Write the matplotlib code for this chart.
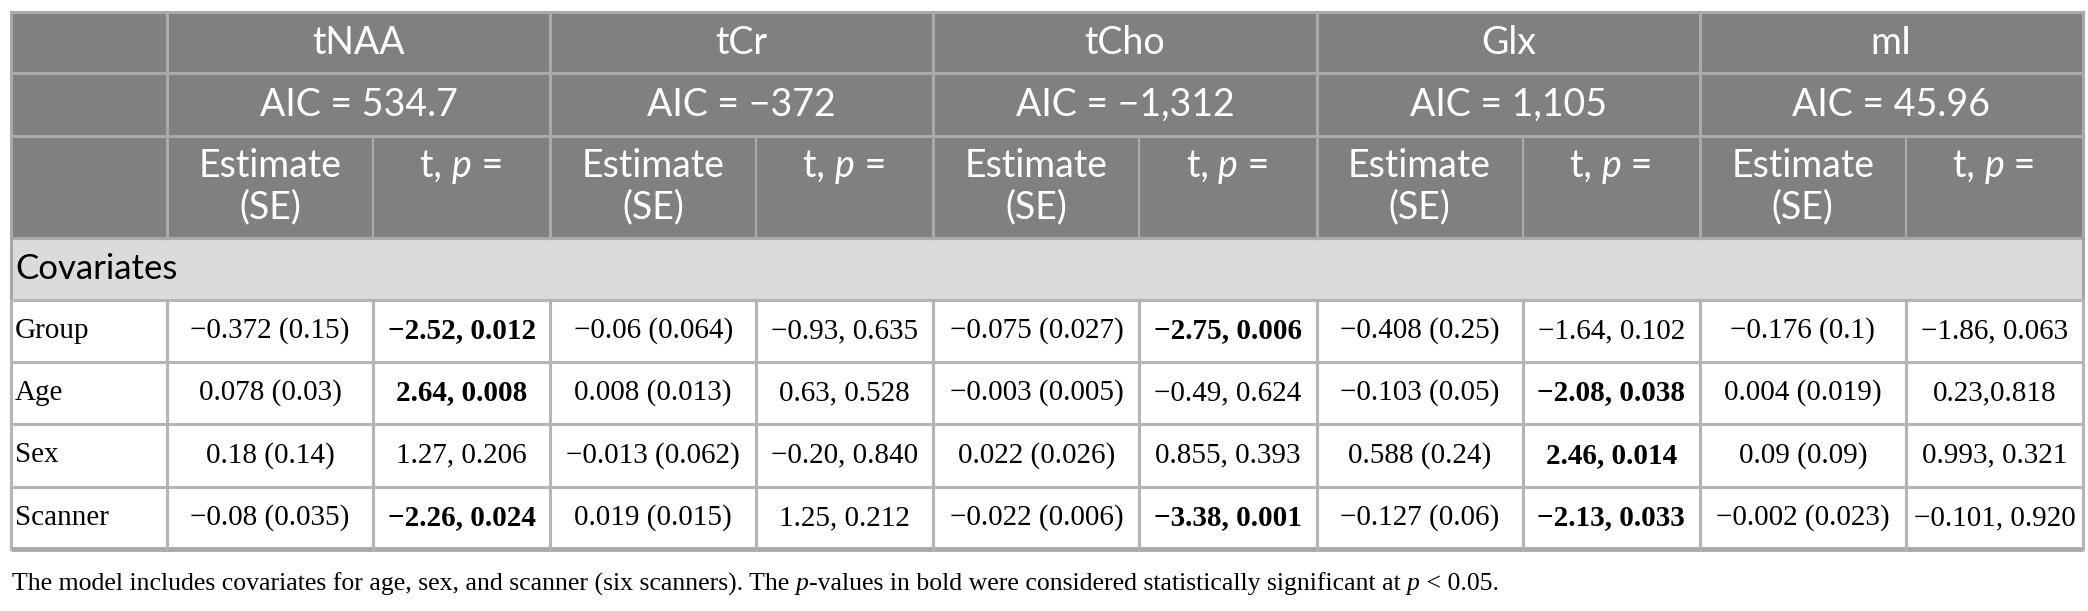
import matplotlib
matplotlib.use("Agg")
import matplotlib.pyplot as plt
from matplotlib.patches import Rectangle

# table contents
metabolites = ["tNAA", "tCr", "tCho", "Glx", "mI"]
aic_labels = ["AIC = 534.7", "AIC = \u2212372", "AIC = \u22121,312", "AIC = 1,105", "AIC = 45.96"]
covariates = ["Group", "Age", "Sex", "Scanner"]

estimates = [
    ["\u22120.372 (0.15)", "\u22120.06 (0.064)", "\u22120.075 (0.027)", "\u22120.408 (0.25)", "\u22120.176 (0.1)"],
    ["0.078 (0.03)", "0.008 (0.013)", "\u22120.003 (0.005)", "\u22120.103 (0.05)", "0.004 (0.019)"],
    ["0.18 (0.14)", "\u22120.013 (0.062)", "0.022 (0.026)", "0.588 (0.24)", "0.09 (0.09)"],
    ["\u22120.08 (0.035)", "0.019 (0.015)", "\u22120.022 (0.006)", "\u22120.127 (0.06)", "\u22120.002 (0.023)"],
]
t_p = [
    ["\u22122.52, 0.012", "\u22120.93, 0.635", "\u22122.75, 0.006", "\u22121.64, 0.102", "\u22121.86, 0.063"],
    ["2.64, 0.008", "0.63, 0.528", "\u22120.49, 0.624", "\u22122.08, 0.038", "0.23,0.818"],
    ["1.27, 0.206", "\u22120.20, 0.840", "0.855, 0.393", "2.46, 0.014", "0.993, 0.321"],
    ["\u22122.26, 0.024", "1.25, 0.212", "\u22123.38, 0.001", "\u22122.13, 0.033", "\u22120.101, 0.920"],
]
significant = [
    [True, False, True, False, False],
    [True, False, False, True, False],
    [False, False, False, True, False],
    [True, False, True, True, False],
]

W, H = 2088, 611
fig = plt.figure(figsize=(W / 100, H / 100), dpi=100)
ax = fig.add_axes([0, 0, 1, 1])
ax.set_xlim(0, W)
ax.set_ylim(H, 0)
ax.axis("off")

SANS = "Lato"
SERIF = "Liberation Serif"
head_bg = "#808080"
head_line = "#a9a9a9"
band_bg = "#dbdbdb"
body_line = "#b5b5b5"
HEAD_FS = 27
BODY_FS = 21

# layout (pixels)
x_left, x_right = 11, 2083
x_first = 167
group_w = (x_right - x_first) / len(metabolites)
est_w = 206
row_y = [12, 73, 136, 238, 300, 362, 424, 487, 549]

fig.canvas.draw()
renderer = fig.canvas.get_renderer()


def text_runs(x, y, parts, ha="center", va="center", **kw):
    # place pieces of text one after another (for mixed italic)
    objs = []
    for s, extra in parts:
        opts = dict(kw)
        opts.update(extra)
        objs.append(ax.text(0, y, s, ha="left", va=va, **opts))
    widths = [t.get_window_extent(renderer).width for t in objs]
    total = sum(widths)
    x0 = x - total / 2 if ha == "center" else x
    for t, w in zip(objs, widths):
        t.set_x(x0)
        x0 += w


# header background
ax.add_patch(Rectangle((x_left, row_y[0]), x_right - x_left, row_y[3] - row_y[0],
                       facecolor=head_bg, edgecolor="none"))
# covariates band
ax.add_patch(Rectangle((x_left, row_y[3]), x_right - x_left, row_y[4] - row_y[3],
                       facecolor=band_bg, edgecolor="none"))

col_edges = []
for i in range(len(metabolites)):
    gx = x_first + i * group_w
    col_edges.append((gx, gx + est_w, gx + group_w))

# header grid lines
for y in row_y[0:4]:
    ax.plot([x_left, x_right], [y, y], color=head_line, lw=2.2, solid_capstyle="butt")
ax.plot([x_left, x_left], [row_y[0], row_y[3]], color=head_line, lw=2.2)
ax.plot([x_right, x_right], [row_y[0], row_y[3]], color=head_line, lw=2.2)
for gx, mx, ex in col_edges:
    ax.plot([gx, gx], [row_y[0], row_y[3]], color=head_line, lw=2.2)
    ax.plot([mx, mx], [row_y[2], row_y[3]], color=head_line, lw=1.6)

# covariates band borders
ax.plot([x_left, x_left], [row_y[3], row_y[4]], color="#a0a0a0", lw=2)
ax.plot([x_right, x_right], [row_y[3], row_y[4]], color="#a0a0a0", lw=2)

# header texts
for i, (gx, mx, ex) in enumerate(col_edges):
    cx = (gx + ex) / 2
    ax.text(cx, (row_y[0] + row_y[1]) / 2, metabolites[i], ha="center", va="center",
            color="white", fontsize=HEAD_FS, family=SANS)
    ax.text(cx, (row_y[1] + row_y[2]) / 2, aic_labels[i], ha="center", va="center",
            color="white", fontsize=HEAD_FS, family=SANS)
    ax.text((gx + mx) / 2, 166, "Estimate", ha="center", va="center",
            color="white", fontsize=HEAD_FS, family=SANS)
    ax.text((gx + mx) / 2, 207, "(SE)", ha="center", va="center",
            color="white", fontsize=HEAD_FS, family=SANS)
    text_runs((mx + ex) / 2, 166, [("t, ", {}), ("p", {"style": "italic"}), (" =", {})],
              color="white", fontsize=HEAD_FS, family=SANS)

ax.text(15, (row_y[3] + row_y[4]) / 2, "Covariates", ha="left", va="center",
        color="black", fontsize=25, family=SANS)

# body rows
for r, name in enumerate(covariates):
    y0, y1 = row_y[4 + r], row_y[5 + r]
    cy = (y0 + y1) / 2
    ax.text(15, cy, name, ha="left", va="center", fontsize=BODY_FS, family=SERIF, color="black")
    for i, (gx, mx, ex) in enumerate(col_edges):
        ax.text((gx + mx) / 2, cy, estimates[r][i], ha="center", va="center",
                fontsize=BODY_FS, family=SERIF, color="black")
        ax.text((mx + ex) / 2, cy, t_p[r][i], ha="center", va="center",
                fontsize=BODY_FS, family=SERIF, color="black",
                weight="bold" if significant[r][i] else "normal")

# body grid
for y in row_y[4:8]:
    ax.plot([x_left, x_right], [y, y], color=body_line, lw=2.2, solid_capstyle="butt")
ax.plot([x_left, x_right], [row_y[8], row_y[8]], color="#a8a8a8", lw=3.5, solid_capstyle="butt")
for x in [x_left, x_first, x_right]:
    ax.plot([x, x], [row_y[4], row_y[8]], color=body_line, lw=2.2)
for gx, mx, ex in col_edges:
    ax.plot([gx, gx], [row_y[4], row_y[8]], color=body_line, lw=2.2)
    ax.plot([mx, mx], [row_y[4], row_y[8]], color=body_line, lw=2.2)

# footnote
text_runs(12, 584, [
    ("The model includes covariates for age, sex, and scanner (six scanners). The ", {}),
    ("p", {"style": "italic"}),
    ("-values in bold were considered statistically significant at ", {}),
    ("p", {"style": "italic"}),
    (" < 0.05.", {}),
], ha="left", fontsize=18.5, family=SERIF, color="black")

fig.savefig("out.png", dpi=100, facecolor="white")
